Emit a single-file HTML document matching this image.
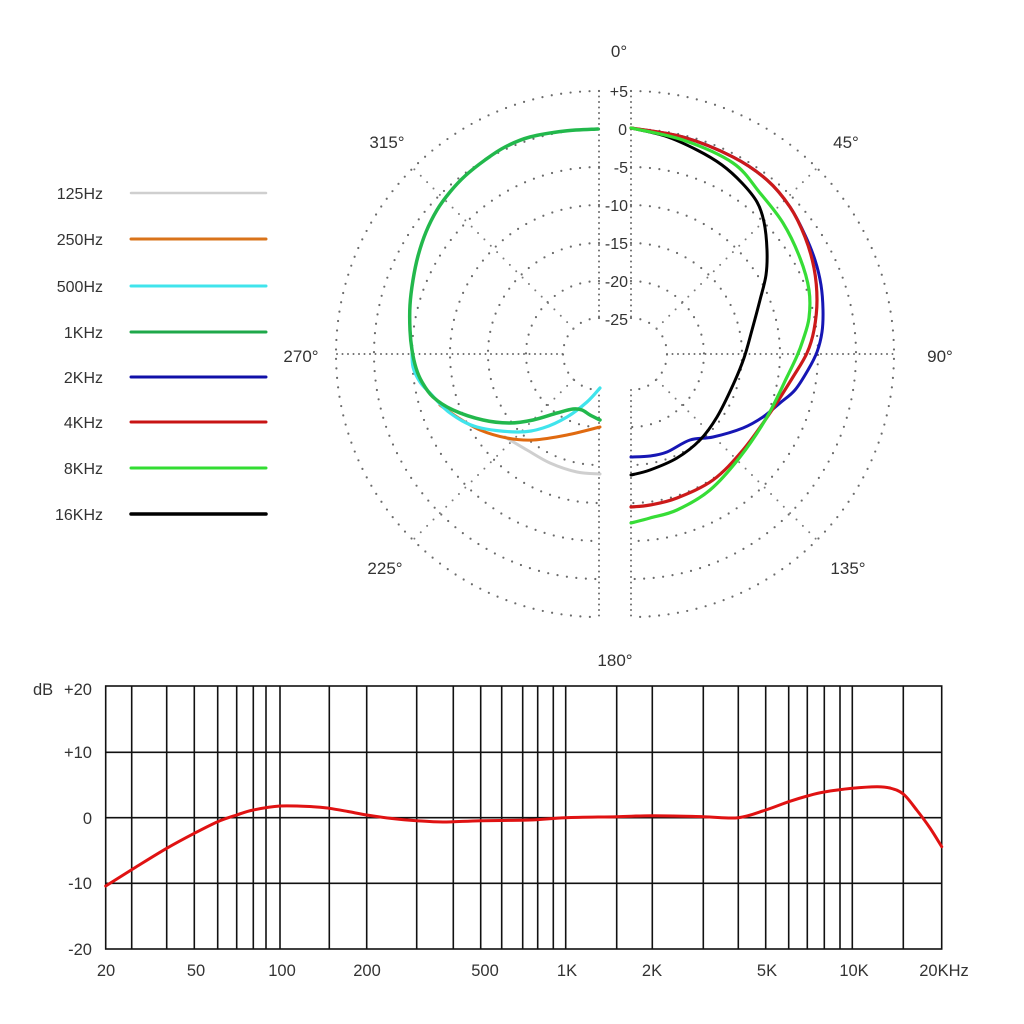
<!DOCTYPE html>
<html><head><meta charset="utf-8"><style>
html,body{margin:0;padding:0;background:#fff;}
svg{display:block;}
text{font-family:"Liberation Sans",sans-serif;fill:#333;}
</style></head><body>
<svg id="s" width="1024" height="1024" viewBox="0 0 1024 1024" xmlns="http://www.w3.org/2000/svg">
<rect width="1024" height="1024" fill="#fff"/>
<g fill="none" stroke="#6a6a6a" stroke-width="2.2" stroke-linecap="round" stroke-dasharray="0 9.5">
<path d="M599,91 A263,263 0 0 0 599,617"/>
<path d="M599,129 A225,225 0 0 0 599,579"/>
<path d="M599,167 A187,187 0 0 0 599,541"/>
<path d="M599,205 A149,149 0 0 0 599,503"/>
<path d="M599,243 A111,111 0 0 0 599,465"/>
<path d="M599,281 A73,73 0 0 0 599,427"/>
<path d="M599,318 A36,36 0 0 0 599,390"/>
<path d="M631,91 A263,263 0 0 1 631,617"/>
<path d="M631,129 A225,225 0 0 1 631,579"/>
<path d="M631,167 A187,187 0 0 1 631,541"/>
<path d="M631,205 A149,149 0 0 1 631,503"/>
<path d="M631,243 A111,111 0 0 1 631,465"/>
<path d="M631,281 A73,73 0 0 1 631,427"/>
<path d="M631,318 A36,36 0 0 1 631,390"/>
</g>
<g fill="none" stroke="#6a6a6a" stroke-width="2" stroke-linecap="round" stroke-dasharray="0 5.5">
<line x1="599" y1="91" x2="599" y2="318"/>
<line x1="599" y1="390" x2="599" y2="617"/>
<line x1="631" y1="91" x2="631" y2="318"/>
<line x1="631" y1="390" x2="631" y2="617"/>
<line x1="337" y1="354" x2="563" y2="354"/>
<line x1="667" y1="354" x2="895" y2="354"/>
</g>
<g fill="none" stroke="#7a7a7a" stroke-width="2" stroke-linecap="round" stroke-dasharray="0 9">
<line x1="573.5" y1="328.5" x2="413" y2="168"/>
<line x1="573.5" y1="379.5" x2="413" y2="540"/>
<line x1="656.5" y1="328.5" x2="817" y2="168"/>
<line x1="656.5" y1="379.5" x2="817" y2="540"/>
</g>
<g font-size="16" text-anchor="end">
<text x="628" y="97">+5</text>
<text x="627" y="135">0</text>
<text x="628" y="173">-5</text>
<text x="628" y="211">-10</text>
<text x="628" y="249">-15</text>
<text x="628" y="287">-20</text>
<text x="628" y="325">-25</text>
</g>
<g font-size="17" text-anchor="middle">
<text x="619" y="57">0°</text>
<text x="387" y="148">315°</text>
<text x="846" y="148">45°</text>
<text x="940" y="362">90°</text>
<text x="301" y="362">270°</text>
<text x="848" y="574">135°</text>
<text x="385" y="574">225°</text>
<text x="615" y="666">180°</text>
</g>
<g fill="none" stroke-linecap="round" stroke-linejoin="round">
<polyline class="sm" stroke="#cfcfcf" stroke-width="3" points="505,437 527,450 550,463 577,472 600,474"/>
<polyline class="sm" stroke="#e06a10" stroke-width="3" points="440,405 457,417 480,430 507,438 533,440 567,435 600,427"/>
<polyline class="sm" stroke="#40e4ec" stroke-width="3.2" points="412,350 413,367 420,382 430,393 450,413 477,427 517,432 543,428 567,417 587,402 600,388"/>
<polyline class="sm" stroke="#22b84c" stroke-width="3.5" points="598,129 565,131 530,137 505,147 485,160 465,176 450,192 437,210 426,232 418,256 413,280 410,305 410,330 412,350 416,368 422,382 433,397 453,410 483,420 510,423 533,420 557,413 573,409 582,410 590,415 600,420"/>
<polyline class="sm" stroke="#1616b4" stroke-width="3" points="631,128 683,137 733,157 767,180 790,207 805,235 815,260 821,285 823,310 822,332 817,352 808,370 795,390 780,403 763,417 743,428 713,437 690,440 667,452 650,456 631,457"/>
<polyline class="sm" stroke="#000" stroke-width="3" points="631,128 665,136 697,150 722,165 742,183 757,202 764,222 767,250 766,275 760,300 752,330 744,358 733,385 717,417 700,440 677,458 650,470 631,475"/>
<polyline class="sm" stroke="#cc1a1a" stroke-width="3.2" points="631,128 683,137 733,157 767,180 790,207 805,237 814,268 817,300 814,330 807,353 793,377 770,413 743,450 713,480 677,498 650,505 631,507"/>
<polyline class="sm" stroke="#36dd36" stroke-width="3.2" points="631,128 683,140 733,163 760,193 783,223 800,258 809,290 809,318 803,340 797,356 787,377 767,417 740,457 710,490 677,510 650,518 631,523"/>
</g>
<g font-size="16" text-anchor="end">
<text x="103" y="199">125Hz</text>
<text x="103" y="245">250Hz</text>
<text x="103" y="292">500Hz</text>
<text x="103" y="338">1KHz</text>
<text x="103" y="383">2KHz</text>
<text x="103" y="428">4KHz</text>
<text x="103" y="474">8KHz</text>
<text x="103" y="520">16KHz</text>
</g>
<g stroke-linecap="round">
<line x1="131" y1="193" x2="266" y2="193" stroke="#cfcfcf" stroke-width="2.5"/>
<line x1="131" y1="239" x2="266" y2="239" stroke="#d9731a" stroke-width="3"/>
<line x1="131" y1="286" x2="266" y2="286" stroke="#40e4ec" stroke-width="3"/>
<line x1="131" y1="332" x2="266" y2="332" stroke="#1fa84a" stroke-width="3"/>
<line x1="131" y1="377" x2="266" y2="377" stroke="#1010a8" stroke-width="3"/>
<line x1="131" y1="422" x2="266" y2="422" stroke="#c81414" stroke-width="3"/>
<line x1="131" y1="468" x2="266" y2="468" stroke="#33dd33" stroke-width="3"/>
<line x1="131" y1="514" x2="266" y2="514" stroke="#000" stroke-width="3.5"/>
</g>
<g stroke="#111" stroke-width="1.6" fill="none">
<rect x="105.7" y="686" width="836" height="263"/>
<line x1="105.7" y1="752.3" x2="941.7" y2="752.3"/>
<line x1="105.7" y1="817.7" x2="941.7" y2="817.7"/>
<line x1="105.7" y1="883.3" x2="941.7" y2="883.3"/>
<path d="M131.7,686V949 M166.7,686V949 M194.3,686V949 M217.7,686V949 M236.7,686V949 M253.3,686V949 M266,686V949 M280,686V949 M329.3,686V949 M366.7,686V949 M416.7,686V949 M453.3,686V949 M480.7,686V949 M501.7,686V949 M522.7,686V949 M537.7,686V949 M553.3,686V949 M565.7,686V949 M616.7,686V949 M652.3,686V949 M703.3,686V949 M738.3,686V949 M765.7,686V949 M788.7,686V949 M807.3,686V949 M824.3,686V949 M840,686V949 M852.3,686V949 M903.3,686V949"/>
</g>
<polyline class="sm" fill="none" stroke="#e01212" stroke-width="3" stroke-linejoin="round" stroke-linecap="round" points="105.7,886 136,867 166.7,848.3 194.3,833.3 217.7,821.7 236.7,815 253.3,810 280,806 313,806.7 329.3,808.3 348,811.5 366.7,815 392,818.5 416.7,820.7 443,822 480.7,820.7 530,820 565.7,817.7 616.7,816.7 652.3,815.7 703.3,816.7 738.3,817.7 765.7,810 788.7,801.7 807.3,796 824.3,792 852.3,788.3 876.7,786.7 890,788 903.3,794 916.7,810 930,828 941.7,846.7"/>
<g font-size="16.5">
<text x="33" y="695">dB</text>
<g text-anchor="end">
<text x="92" y="695">+20</text>
<text x="92" y="758">+10</text>
<text x="92" y="824">0</text>
<text x="92" y="889">-10</text>
<text x="92" y="955">-20</text>
</g>
<g text-anchor="middle">
<text x="106" y="976">20</text>
<text x="196" y="976">50</text>
<text x="282" y="976">100</text>
<text x="367" y="976">200</text>
<text x="485" y="976">500</text>
<text x="567" y="976">1K</text>
<text x="652" y="976">2K</text>
<text x="767" y="976">5K</text>
<text x="854" y="976">10K</text>
<text x="944" y="976">20KHz</text>
</g>
</g>
</svg>
<script>
(function(){
var NS="http://www.w3.org/2000/svg";
var pls=document.querySelectorAll("polyline.sm");
for(var k=0;k<pls.length;k++){
var pl=pls[k];
var nums=pl.getAttribute("points").trim().split(/[\s,]+/).map(Number);
var p=[];for(var i=0;i<nums.length;i+=2)p.push([nums[i],nums[i+1]]);
var d="M"+p[0][0]+","+p[0][1];
for(var i=0;i<p.length-1;i++){
var p0=p[i-1]||p[i],p1=p[i],p2=p[i+1],p3=p[i+2]||p[i+1];
var c1x=p1[0]+(p2[0]-p0[0])/6,c1y=p1[1]+(p2[1]-p0[1])/6;
var c2x=p2[0]-(p3[0]-p1[0])/6,c2y=p2[1]-(p3[1]-p1[1])/6;
d+=" C"+c1x.toFixed(2)+","+c1y.toFixed(2)+" "+c2x.toFixed(2)+","+c2y.toFixed(2)+" "+p2[0]+","+p2[1];
}
var path=document.createElementNS(NS,"path");
var attrs=pl.attributes;
for(var j=0;j<attrs.length;j++){var a=attrs[j];if(a.name!=="points"&&a.name!=="class")path.setAttribute(a.name,a.value);}
if(!path.getAttribute("fill"))path.setAttribute("fill","none");
path.setAttribute("d",d);
pl.parentNode.replaceChild(path,pl);
}
})();
</script>
</body></html>
